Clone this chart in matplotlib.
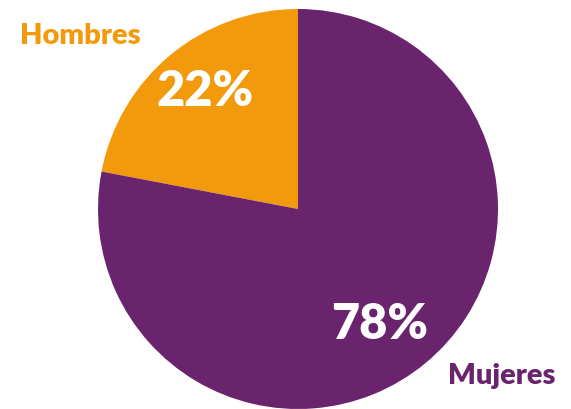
import matplotlib.pyplot as plt

labels = ['Hombres', 'Mujeres']
values = [22, 78]
colors = ['#F39A0C', '#6A236D']

fig = plt.figure(figsize=(5.71, 4.10), dpi=100)
ax = fig.add_axes([98 / 571, 0, 400 / 571, 400 / 410])

wedges, texts, autotexts = ax.pie(values, colors=colors, startangle=90, counterclock=True,
                                  autopct='%1.0f%%', pctdistance=0.73,
                                  wedgeprops=dict(linewidth=0),
                                  textprops=dict(color='white', fontsize=35,
                                                 fontweight='heavy', family='Lato'))
# nudge the percentages to where the original has them
autotexts[0].set_position((-0.465, 0.59))
autotexts[1].set_position((0.41, -0.575))

ax.set_aspect('equal')
ax.set_xlim(-1, 1)
ax.set_ylim(-1, 1)

ax.text(-1.09, 0.87, labels[0], color=colors[0], fontsize=21, fontweight='heavy',
        family='Lato', ha='center', va='center', clip_on=False)
ax.text(1.02, -0.83, labels[1], color=colors[1], fontsize=21, fontweight='heavy',
        family='Lato', ha='center', va='center', clip_on=False)

fig.savefig('out.png', dpi=100)
